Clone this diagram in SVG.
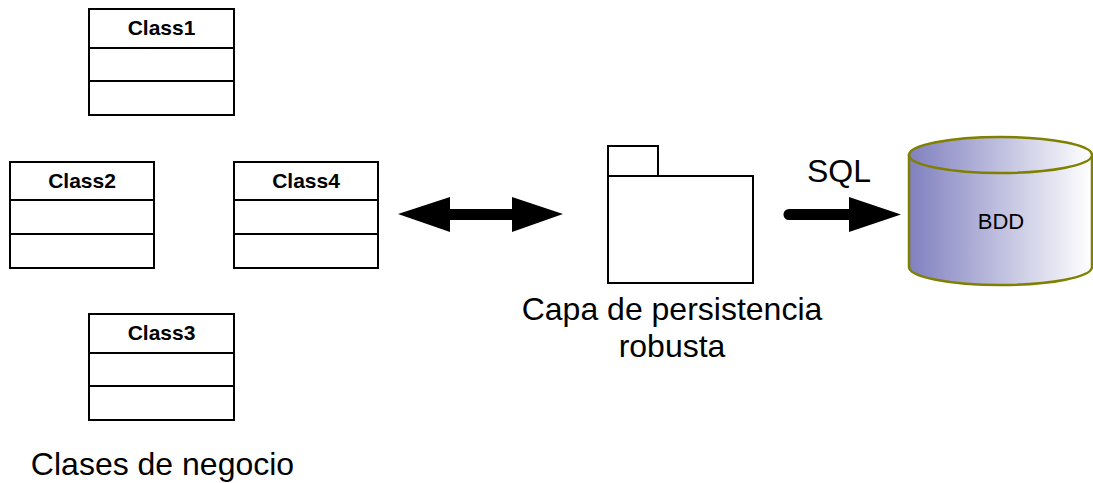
<svg xmlns="http://www.w3.org/2000/svg" width="1093" height="483" viewBox="0 0 1093 483">
  <style>
    .box { fill: #ffffff; stroke: #000000; stroke-width: 2; }
    .div { stroke: #000000; stroke-width: 2; fill: none; }
    .cls { font-family: "Liberation Sans", Arial, sans-serif; font-size: 21px; font-weight: bold; text-anchor: middle; fill: #000000; }
    .big { font-family: "Liberation Sans", Arial, sans-serif; font-size: 32px; text-anchor: middle; fill: #000000; }
    .db { stroke: #808000; stroke-width: 2.5; }
  </style>
  <defs>
    <linearGradient id="dbFill" x1="0" y1="0" x2="1" y2="0">
      <stop offset="0" stop-color="#8080c0"/>
      <stop offset="1" stop-color="#ffffff"/>
    </linearGradient>
  </defs>

  <rect width="1093" height="483" fill="#ffffff"/>

  <!-- business classes -->
  <g id="class1">
    <rect class="box" x="89" y="9" width="145" height="106"/>
    <line class="div" x1="89" y1="48" x2="234" y2="48"/>
    <line class="div" x1="89" y1="81" x2="234" y2="81"/>
    <text class="cls" x="161.5" y="35">Class1</text>
  </g>
  <g id="class2">
    <rect class="box" x="10" y="162" width="144" height="106"/>
    <line class="div" x1="10" y1="200" x2="154" y2="200"/>
    <line class="div" x1="10" y1="234" x2="154" y2="234"/>
    <text class="cls" x="82" y="188">Class2</text>
  </g>
  <g id="class4">
    <rect class="box" x="234" y="162" width="144" height="106"/>
    <line class="div" x1="234" y1="200" x2="378" y2="200"/>
    <line class="div" x1="234" y1="234" x2="378" y2="234"/>
    <text class="cls" x="306" y="188">Class4</text>
  </g>
  <g id="class3">
    <rect class="box" x="89" y="314" width="145" height="106"/>
    <line class="div" x1="89" y1="353" x2="234" y2="353"/>
    <line class="div" x1="89" y1="386" x2="234" y2="386"/>
    <text class="cls" x="161.5" y="340">Class3</text>
  </g>
  <g id="business-label">
    <text class="big" x="162.5" y="475">Clases de negocio</text>
  </g>

  <!-- persistence layer package -->
  <g id="persistence">
    <rect class="box" x="608" y="146" width="50" height="30"/>
    <rect class="box" x="608" y="176" width="145" height="107"/>
    <text class="big" x="672" y="320">Capa de persistencia</text>
    <text class="big" x="672" y="357">robusta</text>
  </g>

  <!-- database -->
  <g id="bdd">
    <path d="M909 155 L909 267 A91.5 18 0 0 0 1092 267 L1092 155 Z" fill="url(#dbFill)" class="db"/>
    <ellipse cx="1000.5" cy="155" rx="91.5" ry="18" fill="url(#dbFill)" class="db"/>
    <text x="1001" y="229" font-family="Liberation Sans, Arial, sans-serif" font-size="22" text-anchor="middle" fill="#000000">BDD</text>
  </g>

  <!-- connectors -->
  <g id="connectors">
    <path d="M398 214 L450 197 L450 209 L512 209 L512 197 L563 214 L512 232 L512 220 L450 220 L450 232 Z" fill="#000000"/>
    <line x1="789" y1="214.5" x2="852" y2="214.5" stroke="#000000" stroke-width="11" stroke-linecap="round"/>
    <path d="M849 197 L901 214.5 L849 232 Z" fill="#000000"/>
    <text x="839" y="182" font-family="Liberation Sans, Arial, sans-serif" font-size="32" text-anchor="middle" fill="#000000">SQL</text>
  </g>
</svg>
